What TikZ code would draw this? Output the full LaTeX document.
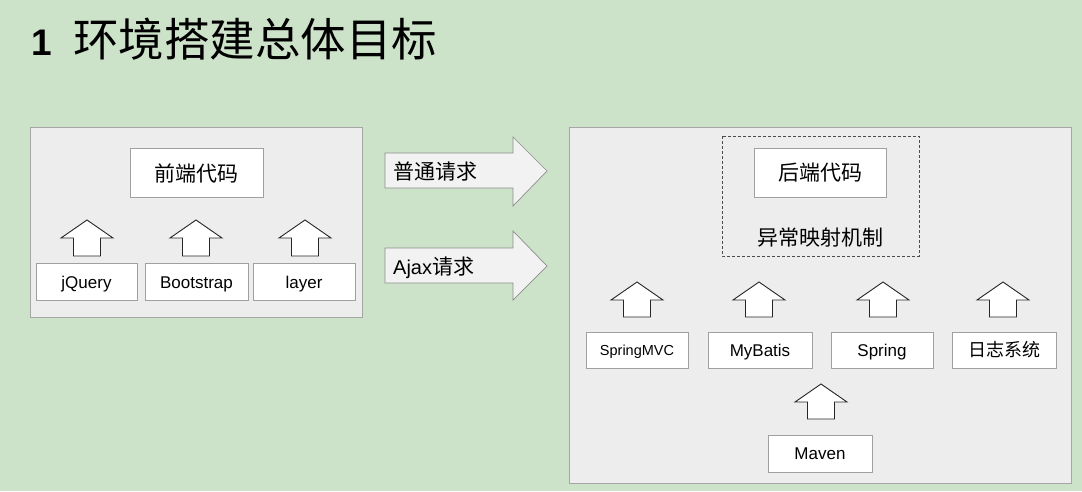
\documentclass[tikz,border=0pt]{standalone}
\usepackage{fontspec}
\setmainfont{Liberation Sans}
\newfontfamily\cjk{Noto Sans CJK SC}
\definecolor{bggreen}{HTML}{CCE3C9}
\definecolor{panelfill}{HTML}{EDEDED}
\definecolor{panelline}{HTML}{A6A6A6}
\definecolor{boxline}{HTML}{A0A0A0}
\begin{document}
\begin{tikzpicture}[x=1pt,y=-1pt,
  panel/.style={draw=panelline,fill=panelfill,line width=0.8pt},
  wbox/.style={draw=boxline,fill=white,line width=0.6pt},
  uparrow/.style={draw=black!85,fill=white,line width=0.9pt,line join=miter},
  bigarrow/.style={draw=black!45,fill=black!5,line width=0.7pt},
  lbl/.style={inner sep=0pt,anchor=base,font=\fontsize{17}{20}\selectfont},
  clbl/.style={inner sep=0pt,font=\cjk\fontsize{21}{24}\selectfont}]
\fill[bggreen] (0,0) rectangle (1082,491);
\useasboundingbox (0,0) rectangle (1082,491);
% title
\node[anchor=base west,inner sep=0pt,font=\bfseries\fontsize{37}{40}\selectfont] (num) at (31,55) {1};
\node[anchor=base west,inner sep=0pt,font=\cjk\fontsize{45.5}{48}\selectfont] (title) at (73,56) {环境搭建总体目标};
% left panel
\draw[panel] (30,127) rectangle (362,317);
\draw[wbox] (130,148) rectangle (263,197);
\node[clbl] (front) at (196.5,173) {前端代码};
\newcommand\uparr[4]{% center x, tip y, head base y, bottom y
  \draw[uparrow] (#1,#2) -- (#1+26,#3) -- (#1+13.5,#3) -- (#1+13.5,#4) -- (#1-13.5,#4) -- (#1-13.5,#3) -- (#1-26,#3) -- cycle;}
\uparr{87}{220}{238}{256}
\uparr{196}{220}{238}{256}
\uparr{305}{220}{238}{256}
\draw[wbox] (36,263) rectangle (137,300);
\node[lbl] (jq) at (86.5,288) {jQuery};
\draw[wbox] (145,263) rectangle (248,300);
\node[lbl] (bs) at (196.5,288) {Bootstrap};
\draw[wbox] (253,263) rectangle (355,300);
\node[lbl] (ly) at (304,288) {layer};
% big arrows
\draw[bigarrow] (385,153) -- (513,153) -- (513,137) -- (547,171) -- (513,206) -- (513,188) -- (385,188) -- cycle;
\node[clbl,anchor=west] (req1) at (393,172) {普通请求};
\draw[bigarrow] (385,248) -- (513,248) -- (513,231) -- (547,266) -- (513,300) -- (513,283) -- (385,283) -- cycle;
\node[anchor=base west,inner sep=0pt] (req2) at (393,274) {\fontsize{20}{24}\selectfont Ajax\cjk\fontsize{21}{24}\selectfont 请求};
% right panel
\draw[panel] (569,127) rectangle (1071,483);
\draw[black!70,line width=0.7pt,dash pattern=on 3pt off 2pt] (722,136) rectangle (919,256);
\draw[wbox] (754,148) rectangle (886,197);
\node[clbl] (back) at (820,173) {后端代码};
\node[clbl] (exc) at (820,238) {异常映射机制};
\uparr{637}{282}{300}{317}
\uparr{759}{282}{300}{317}
\uparr{883}{282}{300}{317}
\uparr{1003}{282}{300}{317}
\draw[wbox] (586,332) rectangle (688,368);
\node[lbl,font=\fontsize{14.5}{17}\selectfont] (smvc) at (637,355) {SpringMVC};
\draw[wbox] (708,332) rectangle (812,368);
\node[lbl] (mb) at (760,356) {MyBatis};
\draw[wbox] (831,332) rectangle (933,368);
\node[lbl] (sp) at (882,356) {Spring};
\draw[wbox] (952,332) rectangle (1056,368);
\node[clbl,font=\cjk\fontsize{18}{20}\selectfont] (log) at (1004,350) {日志系统};
\uparr{821}{384}{402}{419}
\draw[wbox] (768,435) rectangle (872,472);
\node[lbl] (mvn) at (820,459.5) {Maven};
\end{tikzpicture}
\end{document}
